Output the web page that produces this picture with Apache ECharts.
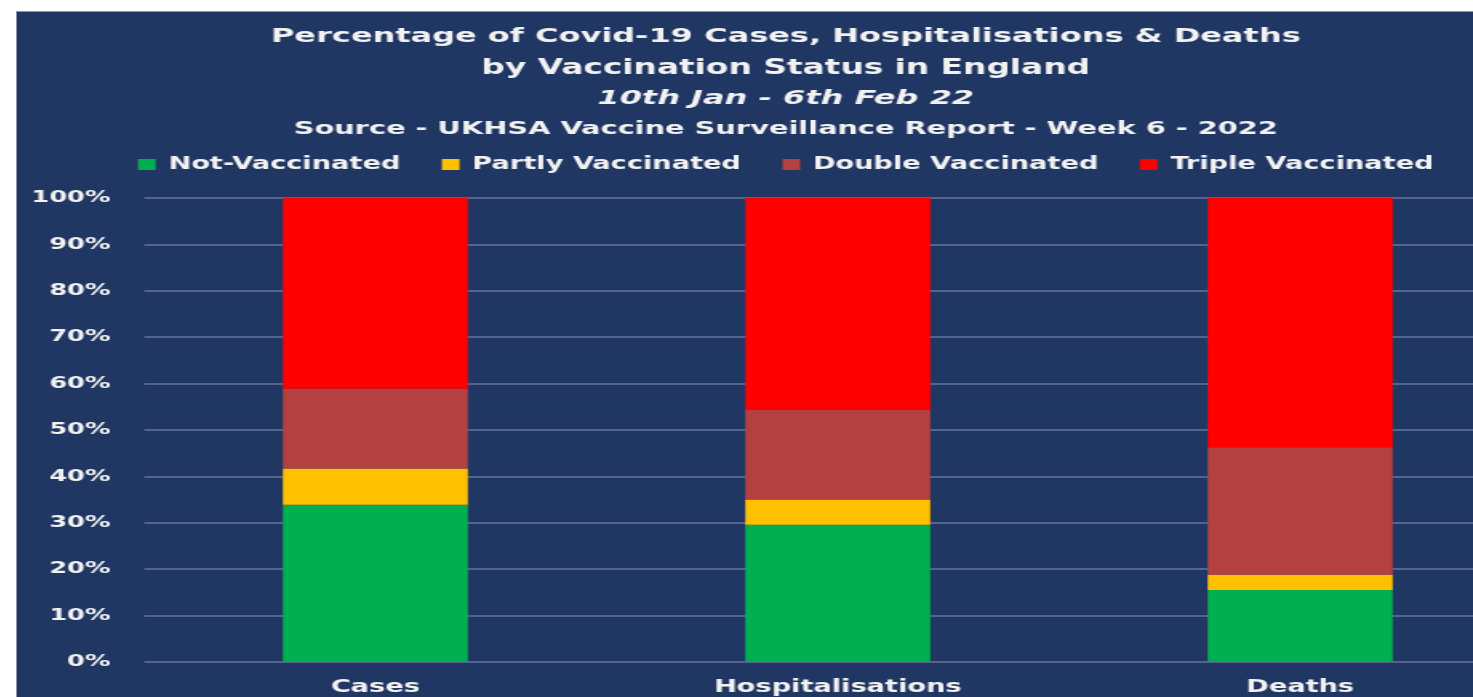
<!DOCTYPE html>
<html>
<head>
<meta charset="utf-8">
<script src="https://cdn.jsdelivr.net/npm/echarts@6/dist/echarts.min.js"></script>
<style>
  html, body {
    margin: 0;
    padding: 0;
    width: 100%;
    height: 100%;
    overflow: hidden;
    background: #fff;
  }
  #panel {
    position: absolute;
    left: 16px;
    top: 11px;
    width: 1480px;
    height: 700px;
    background-color: #203763;
    border-top: 1px solid #8d95a8;
    border-left: 1px solid #8d95a8;
    overflow: hidden;
  }
  /* the original picture is stretched sideways, so the whole chart is too */
  #mychart {
    width: 961px;
    height: 686px;
    transform: scaleX(1.6);
    transform-origin: 0 0;
  }
</style>
</head>
<body>
<div id="panel"><div id="mychart"></div></div>
<script>
  var categories = ['Cases', 'Hospitalisations', 'Deaths'];
  var seriesNames = ['Not-Vaccinated', 'Partly Vaccinated', 'Double Vaccinated', 'Triple Vaccinated'];
  // percentages
  var notVaccinated = [33.9, 29.6, 15.5];
  var partlyVaccinated = [7.8, 5.4, 3.3];
  var doubleVaccinated = [17.2, 19.4, 27.5];
  var tripleVaccinated = [41.1, 45.6, 53.7];
  var yTicks = [0, 10, 20, 30, 40, 50, 60, 70, 80, 90, 100];

  var titleLines = [
    'Percentage of Covid-19 Cases, Hospitalisations & Deaths',
    'by Vaccination Status in England',
    '10th Jan - 6th Feb 22',
    'Source - UKHSA Vaccine Surveillance Report - Week 6 - 2022'
  ];

  var textColor = '#F2F2F2';
  var fontName = 'DejaVu Sans';
  var colors = ['#00B050', '#FFC000', '#B44140', '#FF0000'];
  var values = [notVaccinated, partlyVaccinated, doubleVaccinated, tripleVaccinated];

  var mychart = echarts.init(document.getElementById('mychart'), null, { renderer: 'canvas' });

  var series = [];
  for (var i = 0; i < seriesNames.length; i++) {
    series.push({
      name: seriesNames[i],
      type: 'bar',
      stack: 'total',
      barWidth: '40%',
      data: values[i],
      itemStyle: {
        color: colors[i]
      }
    });
  }

  mychart.setOption({
    backgroundColor: 'transparent',
    color: colors,
    title: [
      {
        text: titleLines[0], left: 'center', top: 10,
        textStyle: { color: textColor, fontFamily: fontName, fontWeight: 'bold', fontSize: 20 }
      },
      {
        text: titleLines[1], left: 'center', top: 41,
        textStyle: { color: textColor, fontFamily: fontName, fontWeight: 'bold', fontSize: 20.5 }
      },
      {
        text: titleLines[2], left: 'center', top: 72,
        textStyle: { color: textColor, fontFamily: fontName, fontWeight: 'bold', fontStyle: 'italic', fontSize: 20 }
      },
      {
        text: titleLines[3], left: 'center', top: 103,
        textStyle: { color: textColor, fontFamily: fontName, fontWeight: 'bold', fontSize: 18 }
      }
    ],
    legend: {
      data: seriesNames,
      left: 'center',
      top: 139,
      icon: 'rect',
      itemWidth: 11,
      itemHeight: 11,
      itemGap: 26,
      textStyle: {
        color: textColor, fontFamily: fontName, fontWeight: 'bold', fontSize: 17,
        padding: [0, 0, 0, 3]
      }
    },
    grid: {
      left: 79.5,
      right: 14.5,
      top: 186,
      bottom: 36,
      containLabel: false
    },
    xAxis: {
      type: 'category',
      data: categories,
      axisLine: { show: false },
      axisTick: { show: false },
      axisLabel: {
        margin: 17,
        color: textColor,
        fontFamily: fontName,
        fontWeight: 'bold',
        fontSize: 17
      }
    },
    yAxis: {
      type: 'value',
      min: yTicks[0],
      max: yTicks[yTicks.length - 1],
      interval: yTicks[1] - yTicks[0],
      axisLine: { show: false },
      axisTick: { show: false },
      axisLabel: {
        margin: 21,
        formatter: '{value}%',
        color: textColor,
        fontFamily: fontName,
        fontWeight: 'bold',
        fontSize: 16
      },
      splitLine: {
        lineStyle: { color: '#66759a', width: 1.5 }
      }
    },
    series: series
  });
</script>
</body>
</html>
